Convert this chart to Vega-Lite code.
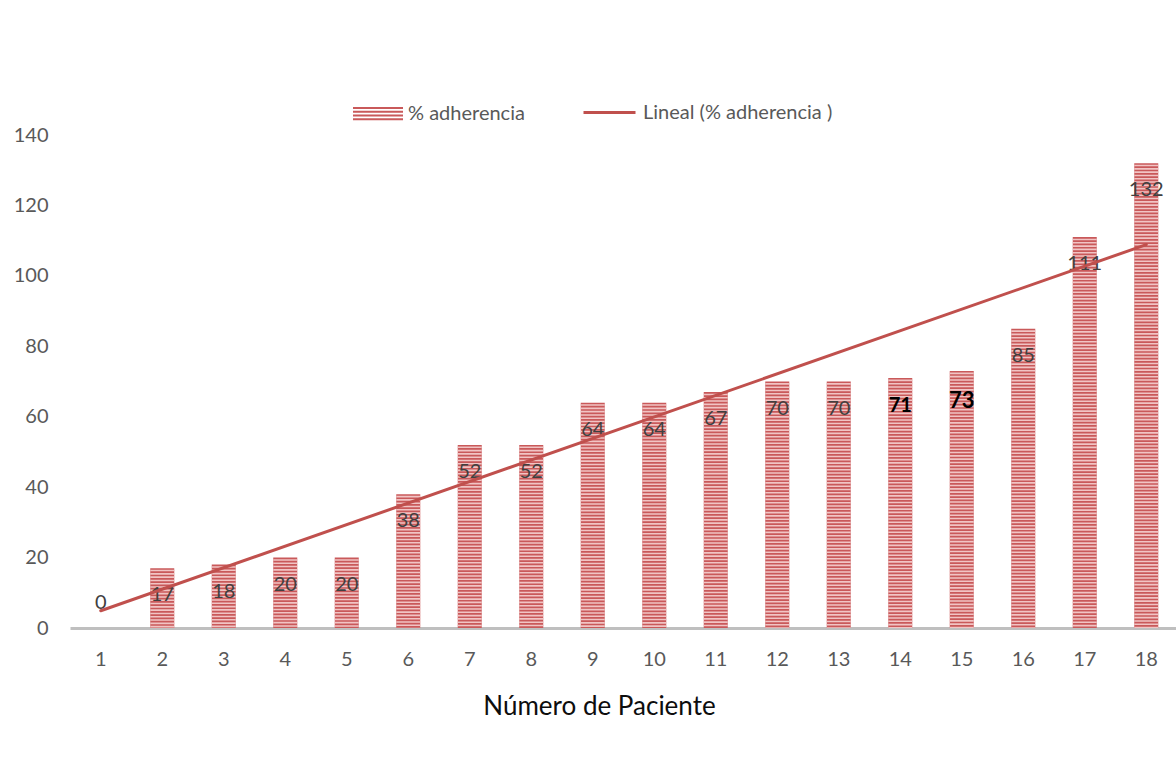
{
  "$schema": "https://vega.github.io/schema/vega-lite/v6.json",
  "width": 1107,
  "height": 493,
  "autosize": {"type": "none"},
  "padding": {"left": 70, "top": 135, "right": 0, "bottom": 137},
  "background": "white",
  "config": {"view": {"stroke": null}, "font": "Lato"},
  "data": {
    "values": [
      {"paciente": 1, "adherencia": 0},
      {"paciente": 2, "adherencia": 17},
      {"paciente": 3, "adherencia": 18},
      {"paciente": 4, "adherencia": 20},
      {"paciente": 5, "adherencia": 20},
      {"paciente": 6, "adherencia": 38},
      {"paciente": 7, "adherencia": 52},
      {"paciente": 8, "adherencia": 52},
      {"paciente": 9, "adherencia": 64},
      {"paciente": 10, "adherencia": 64},
      {"paciente": 11, "adherencia": 67},
      {"paciente": 12, "adherencia": 70},
      {"paciente": 13, "adherencia": 70},
      {"paciente": 14, "adherencia": 71},
      {"paciente": 15, "adherencia": 73},
      {"paciente": 16, "adherencia": 85},
      {"paciente": 17, "adherencia": 111},
      {"paciente": 18, "adherencia": 132}
    ]
  },
  "encoding": {
    "x": {
      "field": "paciente",
      "type": "ordinal",
      "scale": {"paddingInner": 0, "paddingOuter": 0},
      "axis": {
        "labelAngle": 0,
        "ticks": false,
        "domainColor": "#bfbfbf",
        "domainWidth": 3,
        "labelFontSize": 20,
        "labelColor": "#595959",
        "labelPadding": 21,
        "title": "Número de Paciente",
        "titleFontSize": 26,
        "titleFontWeight": "normal",
        "titleColor": "#0d0d0d",
        "titlePadding": 24,
        "titleX": 529
      }
    },
    "y": {
      "field": "adherencia",
      "type": "quantitative",
      "scale": {"domain": [0, 140]},
      "axis": {
        "values": [0, 20, 40, 60, 80, 100, 120, 140],
        "grid": false,
        "domain": false,
        "ticks": false,
        "labelFontSize": 20,
        "labelColor": "#595959",
        "labelPadding": 22,
        "title": null
      }
    }
  },
  "layer": [
    {
      "mark": {"type": "bar", "width": 24},
      "encoding": {
        "fill": {
          "datum": "% adherencia",
          "scale": {"range": ["#c9595a"]},
          "legend": {
            "title": null,
            "orient": "none",
            "legendX": 283,
            "legendY": -46,
            "padding": 0,
            "symbolType": "M-1,-0.28H1V-0.2H-1Z M-1,-0.13H1V-0.05H-1Z M-1,0.02H1V0.1H-1Z M-1,0.17H1V0.25H-1Z",
            "symbolSize": 2500,
            "symbolStrokeWidth": 0,
            "labelFontSize": 20,
            "labelColor": "#595959",
            "labelFont": "Lato",
            "labelOffset": 5,
            "labelLimit": 400
          }
        }
      }
    },
    {
      "mark": {
        "type": "rule",
        "strokeWidth": 24,
        "strokeDash": [1.6, 1.7],
        "strokeDashOffset": 1.7,
        "strokeCap": "butt",
        "color": "#f1c4c4"
      },
      "encoding": {
        "y2": {"datum": 0}
      }
    },
    {
      "transform": [{"filter": "datum.adherencia > 0 && datum.adherencia != 71 && datum.adherencia != 73"}],
      "mark": {"type": "text", "dy": 27, "fontSize": 20, "color": "#404040", "baseline": "middle"},
      "encoding": {"text": {"field": "adherencia", "type": "quantitative"}}
    },
    {
      "transform": [{"filter": "datum.adherencia == 0"}],
      "mark": {"type": "text", "dy": -25, "fontSize": 20, "color": "#404040", "baseline": "middle"},
      "encoding": {"text": {"field": "adherencia", "type": "quantitative"}}
    },
    {
      "transform": [{"filter": "datum.adherencia == 71"}],
      "mark": {"type": "text", "dy": 28, "fontSize": 20, "fontWeight": "bold", "color": "#000000", "baseline": "middle"},
      "encoding": {"text": {"field": "adherencia", "type": "quantitative"}}
    },
    {
      "transform": [{"filter": "datum.adherencia == 73"}],
      "mark": {"type": "text", "dy": 30, "fontSize": 22, "fontWeight": "bold", "color": "#000000", "baseline": "middle"},
      "encoding": {"text": {"field": "adherencia", "type": "quantitative"}}
    },
    {
      "transform": [{"regression": "adherencia", "on": "paciente"}],
      "mark": {"type": "line", "strokeWidth": 3, "strokeCap": "round"},
      "encoding": {
        "stroke": {
          "datum": "Lineal (% adherencia )",
          "scale": {"range": ["#c0504d"]},
          "legend": {
            "title": null,
            "orient": "none",
            "legendX": 512,
            "legendY": -50,
            "padding": 0,
            "symbolType": "stroke",
            "symbolSize": 2704,
            "symbolStrokeWidth": 3,
            "labelFontSize": 20,
            "labelColor": "#595959",
            "labelFont": "Lato",
            "labelOffset": 6,
            "labelLimit": 400
          }
        }
      }
    }
  ]
}
